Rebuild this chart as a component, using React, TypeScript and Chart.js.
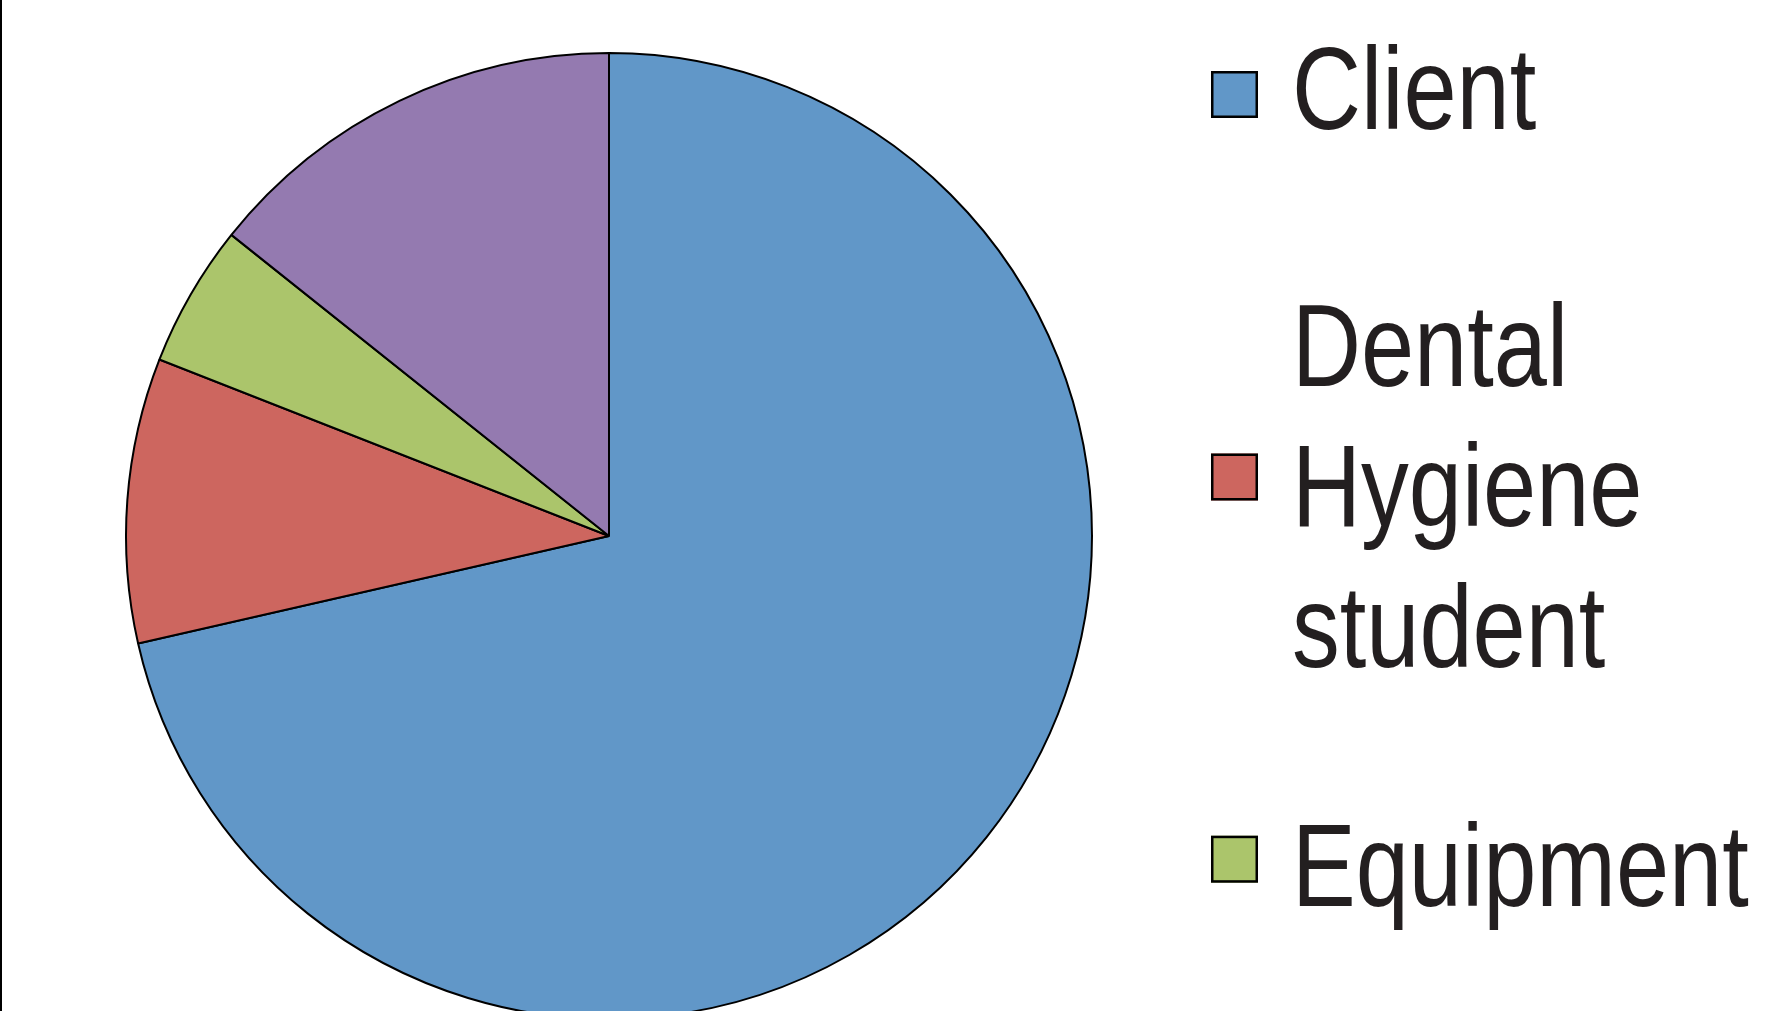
import React, { useEffect, useRef } from "react";
import { Chart, registerables } from "chart.js";

Chart.register(...registerables);

const categories = ["Client", "Dental Hygiene student", "Equipment", "Other"];
const values = [15, 2, 1, 3];
const sliceColors = ["#6197C8", "#CD665F", "#ABC56B", "#947AB0"];

const CANVAS_W = 1775;
const CANVAS_H = 1030;

const sideLegend = {
  id: "sideLegend",
  afterDraw(chart: any, _args: any, opts: any) {
    const ctx: CanvasRenderingContext2D = chart.ctx;
    const size: number = opts.fontSize;
    ctx.save();
    // left frame line
    ctx.fillStyle = "#000000";
    ctx.fillRect(0, 0, 2, chart.height);

    // pick a condensed face
    ctx.font = `${size}px "Liberation Sans Narrow", monospace`;
    const wNarrow = ctx.measureText("Equipment").width;
    ctx.font = `${size}px monospace`;
    const wMono = ctx.measureText("Equipment").width;
    let family = '"Liberation Sans Narrow"';
    let sx = 1;
    if (Math.abs(wNarrow - wMono) < 0.5) {
      family = '"Liberation Sans", Arial, sans-serif';
      sx = 0.82;
    }
    ctx.font = `${size}px ${family}`;
    const measure = (s: string) => ctx.measureText(s).width * sx;

    const labels: string[] = chart.data.labels;
    const colors: string[] = chart.data.datasets[0].backgroundColor;
    const baselines: number[] = opts.firstBaselines;
    const boxCenters: number[] = opts.boxCenters;
    labels.forEach((label, i) => {
      if (i >= baselines.length) return;
      // wrap
      const words = label.split(" ");
      const lines: string[] = [];
      let cur = "";
      words.forEach((w) => {
        const test = cur ? cur + " " + w : w;
        if (cur && measure(test) > opts.maxTextWidth) {
          lines.push(cur);
          cur = w;
        } else cur = test;
      });
      if (cur) lines.push(cur);

      ctx.fillStyle = opts.textColor;
      ctx.textBaseline = "alphabetic";
      ctx.textAlign = "left";
      lines.forEach((ln, k) => {
        ctx.save();
        ctx.translate(opts.textX, baselines[i] + k * opts.lineHeight);
        ctx.scale(sx, 1);
        ctx.fillText(ln, 0, 0);
        ctx.restore();
      });

      const bs = opts.boxSize;
      const top = boxCenters[i] - bs / 2;
      ctx.fillStyle = colors[i];
      ctx.fillRect(opts.boxX, top, bs, bs);
      ctx.strokeStyle = "#000000";
      ctx.lineWidth = 2.5;
      ctx.strokeRect(opts.boxX + 1.25, top + 1.25, bs - 2.5, bs - 2.5);
    });
    ctx.restore();
  },
};

export default function App() {
  const ref = useRef<HTMLCanvasElement | null>(null);
  useEffect(() => {
    if (!ref.current) return;
    const chart = new Chart(ref.current, {
      type: "pie",
      data: {
        labels: categories,
        datasets: [
          {
            data: values,
            backgroundColor: sliceColors,
            borderColor: "#000000",
            borderWidth: 2,
          },
        ],
      },
      options: {
        responsive: false,
        animation: false,
        layout: { padding: { left: 125, right: 682, top: 52, bottom: 10 } },
        plugins: {
          legend: { display: false },
          tooltip: { enabled: false },
          title: { display: false },
          sideLegend: {
            fontSize: 116.5,
            textColor: "#231F20",
            textX: 1292,
            lineHeight: 140.5,
            maxTextWidth: 475,
            firstBaselines: [129.3, 385.7, 905.7],
            boxCenters: [94.5, 477, 859.2],
            boxX: 1211,
            boxSize: 47,
          },
        } as any,
      },
      plugins: [sideLegend],
    });
    return () => chart.destroy();
  }, []);
  return (
    <div
      style={{
        position: "fixed",
        left: 0,
        top: 0,
        width: CANVAS_W,
        height: 1011,
        overflow: "hidden",
        background: "#ffffff",
      }}
    >
      <canvas ref={ref} width={CANVAS_W} height={CANVAS_H} style={{ display: "block" }} />
    </div>
  );
}
